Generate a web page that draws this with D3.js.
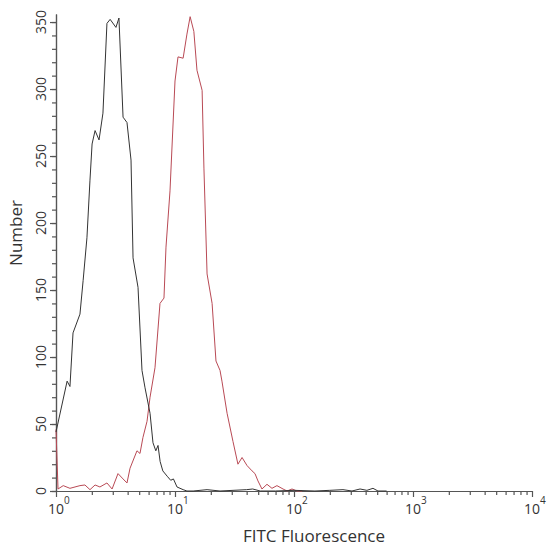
<!DOCTYPE html>
<html>
<head>
<meta charset="utf-8">
<script src="https://cdn.jsdelivr.net/npm/d3@7/dist/d3.min.js"></script>
<style>
  body { margin: 0; background: #fff; }
  svg text { font-family: "Open Sans", "DejaVu Sans", sans-serif; fill: #333; }
  .axis path, .axis line { stroke: #555; stroke-width: 1.2; }
  .curve { fill: none; stroke-width: 1; stroke-linejoin: round; }
</style>
</head>
<body>
<svg id="chart"></svg>
<script>
// Datos (fluorescencia FITC vs. número de eventos)
const controlFluor = [1.0, 1.24, 1.31, 1.39, 1.59, 1.69, 1.82, 1.93, 2.01, 2.13, 2.30, 2.48, 2.68, 2.85, 3.19, 3.38,
  3.66, 3.95, 4.27, 4.44, 4.89, 5.28, 5.60, 6.17, 6.53, 6.9, 7.2, 7.5, 7.9, 8.6, 9.2, 9.7, 10.4, 11.7, 12.6,
  14.2, 18.6, 23.9, 40, 45, 52, 70, 100, 150, 200, 258, 307, 359, 410, 461, 508, 600];
const controlCount = [44, 82, 78, 118, 132, 157, 189, 232, 259, 269, 262, 282, 349, 352, 346, 353,
  279, 275, 247, 174, 152, 90, 77, 58, 36, 30, 34, 22, 15, 11, 8, 9, 3, 1, 0,
  0, 1, 0, 1, 1.5, 0, 0, 0.5, 0, 0.5, 1, 0, 1.5, 0.5, 2, 0, 0];

const stainedFluor = [1.0, 1.04, 1.15, 1.31, 1.59, 1.75, 1.93, 2.13, 2.34, 2.68, 2.96, 3.32, 3.66, 3.95, 4.19,
  4.79, 5.08, 5.38, 5.82, 6.17, 6.79, 7.48, 8.08, 8.40, 9.08, 10.0, 10.6, 11.7, 12.6, 13.4, 14.4, 15.3,
  16.9, 17.5, 18.6, 20.5, 22.1, 23.9, 24.8, 27.4, 30.7, 33.8, 36.6, 40.3, 44.4, 47.0, 49.8, 53.8, 59.3,
  65.3, 71.9, 80.9, 87.4, 96.2, 106, 117];
const stainedCount = [46, 1.5, 4, 2, 4, 4.5, 1, 4.5, 3, 6, 1.5, 13, 9, 6, 17,
  30, 28, 40, 52, 70, 92, 140, 144, 182, 224, 306, 324, 323, 341, 354, 343, 314,
  299, 241, 162, 140, 97, 90, 82, 58, 37, 20, 25, 19, 15, 13, 7.5, 1.5, 5,
  2, 4, 1.5, 0, 1.5, 0, 0];

// Ticks
const yMajorTicks = [0, 50, 100, 150, 200, 250, 300, 350];
const yMinorTicks = d3.range(0, 351, 10);
const xDecades = [0, 1, 2, 3, 4];

// Configuración del gráfico
const width = 553, height = 552;
const plot = { left: 56, right: 532, top: 14, bottom: 491 };

const svg = d3.select("#chart")
  .attr("width", width)
  .attr("height", height);

// Escalas
const xScale = d3.scaleLog().domain([1, 1e4]).range([plot.left, plot.right]);
const yScale = d3.scaleLinear().domain([0, 356]).range([plot.bottom, plot.top]);

// Ticks menores del eje x: 2..9 en cada década
const xMinorTicks = [];
xDecades.slice(0, -1).forEach(e => {
  for (let k = 2; k <= 9; k++) xMinorTicks.push(k * Math.pow(10, e));
});
const xMajorTicks = xDecades.map(e => Math.pow(10, e));

// Ejes
svg.append("g")
  .attr("class", "axis")
  .attr("transform", `translate(0,${plot.bottom})`)
  .call(d3.axisBottom(xScale).tickValues(xMinorTicks).tickSize(4).tickSizeOuter(0).tickFormat(""));

svg.append("g")
  .attr("class", "axis")
  .attr("transform", `translate(0,${plot.bottom})`)
  .call(d3.axisBottom(xScale).tickValues(xMajorTicks).tickSize(6).tickSizeOuter(0).tickFormat(""));

svg.append("g")
  .attr("class", "axis")
  .attr("transform", `translate(${plot.left},0)`)
  .call(d3.axisLeft(yScale).tickValues(yMinorTicks).tickSize(4).tickSizeOuter(0).tickFormat(""));

svg.append("g")
  .attr("class", "axis")
  .attr("transform", `translate(${plot.left},0)`)
  .call(d3.axisLeft(yScale).tickValues(yMajorTicks).tickSize(6).tickSizeOuter(0).tickFormat(""));

// Etiquetas del eje y (rotadas)
svg.append("g").selectAll("text")
  .data(yMajorTicks)
  .join("text")
  .attr("transform", d => `translate(46,${yScale(d)}) rotate(-90)`)
  .attr("text-anchor", "middle")
  .style("font-size", "14px")
  .text(d => d);

// Etiquetas del eje x: 10 con exponente
const xLabels = svg.append("g").selectAll("g")
  .data(xDecades)
  .join("g")
  .attr("transform", d => `translate(${xScale(Math.pow(10, d))},0)`);

xLabels.append("text")
  .attr("y", 514)
  .attr("text-anchor", "middle")
  .style("font-size", "14px")
  .text("10");

xLabels.append("text")
  .attr("x", 8)
  .attr("y", 504)
  .style("font-size", "10px")
  .text(d => d);

// Títulos de ejes
svg.append("text")
  .attr("transform", "translate(22,233) rotate(-90)")
  .attr("text-anchor", "middle")
  .style("font-size", "17px")
  .text("Number");

svg.append("text")
  .attr("x", 314)
  .attr("y", 542)
  .attr("text-anchor", "middle")
  .style("font-size", "17px")
  .text("FITC Fluorescence");

// Curvas
const line = d3.line()
  .x(d => xScale(d[0]))
  .y(d => yScale(d[1]));

svg.append("path")
  .attr("class", "curve")
  .attr("d", line(d3.zip(stainedFluor, stainedCount)))
  .attr("stroke", "#b94a55");

svg.append("path")
  .attr("class", "curve")
  .attr("d", line(d3.zip(controlFluor, controlCount)))
  .attr("stroke", "#333");
</script>
</body>
</html>
